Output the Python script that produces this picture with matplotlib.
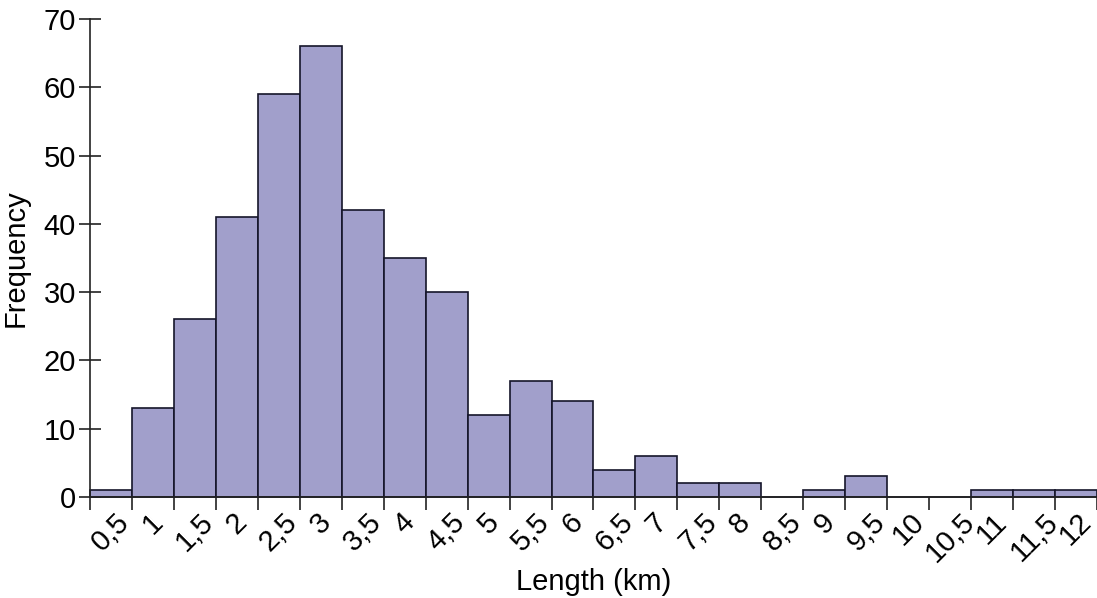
import matplotlib as mpl
mpl.use('agg')
import matplotlib.pyplot as plt
import numpy as np

plt.rc('font', family=['Liberation Sans', 'DejaVu Sans'])

# histogram of lengths, one count per 0.5 km class
bin_labels = ['0,5', '1', '1,5', '2', '2,5', '3', '3,5', '4', '4,5', '5',
              '5,5', '6', '6,5', '7', '7,5', '8', '8,5', '9', '9,5', '10',
              '10,5', '11', '11,5', '12']
counts = [1, 13, 26, 41, 59, 66, 42, 35, 30, 12, 17, 14, 4, 6, 2, 2,
          0, 1, 3, 0, 0, 1, 1, 1]
yticks = [0, 10, 20, 30, 40, 50, 60, 70]

fig = plt.figure(figsize=(10.97, 5.98), dpi=100)
ax = fig.add_axes([0.082, 0.169, 0.918, 0.799])

n = len(counts)
edges = np.arange(n + 1)
ax.bar(edges[:-1], counts, width=1, align='edge', color='#a19fcb',
       edgecolor='#15152a', linewidth=1.2, clip_on=False, zorder=2)

ax.set_xlim(0, n)
ax.set_ylim(0, 70)

for s in ['top', 'right']:
    ax.spines[s].set_visible(False)
for s in ['left', 'bottom']:
    ax.spines[s].set_linewidth(1.2)
    ax.spines[s].set_color('#222222')

# ticks on bin edges, labels on bin centres
ax.set_xticks(edges)
ax.set_xticklabels([])
ax.tick_params(axis='x', which='major', direction='out', length=9,
               width=1.2, color='#222222')
ax.set_xticks(edges[:-1] + 0.5, minor=True)
ax.set_xticklabels(bin_labels, minor=True, rotation=45, ha='center',
                   va='top', fontsize=21)
ax.tick_params(axis='x', which='minor', length=0, pad=8)

ax.set_yticks(yticks)
ax.tick_params(axis='y', direction='inout', length=16, width=1.2,
               color='#222222', labelsize=21, pad=2)

ax.set_xlabel('Length (km)', fontsize=21, labelpad=0)
ax.set_ylabel('Frequency', fontsize=21, labelpad=10)

fig.savefig('out.png', dpi=100)
